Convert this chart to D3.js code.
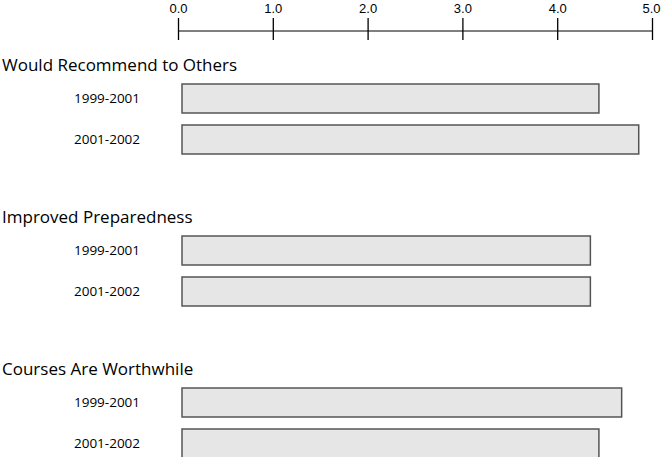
<!DOCTYPE html>
<html>
<head>
<meta charset="utf-8">
<script src="https://cdn.jsdelivr.net/npm/d3@7"></script>
<style>
  body { margin: 0; background: #fff; }
  svg { display: block; font-family: "Open Sans", sans-serif; }
  .cat { font-size: 17px; fill: #000; }
  .yr { font-size: 13.5px; fill: #000; }
  .axis text { font-size: 13px; fill: #000; }
  .bar { fill: #e6e6e6; stroke: #555; stroke-width: 1.5; }
</style>
</head>
<body>
<svg width="662" height="457"></svg>
<script>
// chart data
var categories = ["Would Recommend to Others", "Improved Preparedness", "Courses Are Worthwhile"];
var periods = ["1999-2001", "2001-2002"];
var values1999 = [4.44, 4.35, 4.68];
var values2001 = [4.86, 4.35, 4.44];
var tickValues = [0, 1, 2, 3, 4, 5];

window.onload = main;

function main() {
    var svg = d3.select("svg");

    var x = d3.scaleLinear().domain([0, 5]).range([178, 652]);

    // one band per category block (band top = title line)
    var yGroup = d3.scaleBand().domain(categories).range([65, 521]).paddingInner(0);
    var yInner = d3.scaleBand().domain(periods).range([19, 89]).paddingInner(0.293).paddingOuter(0);

    var rows = [];
    categories.forEach(function (c, i) {
        rows.push({ cat: c, period: periods[0], value: values1999[i] });
        rows.push({ cat: c, period: periods[1], value: values2001[i] });
    });

    // Axis on top
    var axis = d3.axisTop(x)
        .tickValues(tickValues)
        .tickSize(13)
        .tickPadding(5)
        .tickFormat(d3.format(".1f"));

    var ax = svg.append("g")
        .attr("class", "axis")
        .attr("transform", "translate(0,31)")
        .call(axis);
    ax.select(".domain").attr("stroke", "#000").attr("stroke-width", 1).attr("d", "M" + x(0) + ",0H" + x(5));
    ax.selectAll(".tick line").attr("y1", 9).attr("y2", -13).attr("stroke", "#000").attr("stroke-width", 1.3);
    // keep the last label inside the frame
    ax.selectAll(".tick text").filter(function (d) { return d === 5; })
        .attr("text-anchor", "end").attr("dx", 8);

    // Category titles
    svg.selectAll(".cat")
        .data(categories)
        .enter()
        .append("text")
        .attr("class", "cat")
        .attr("x", 2)
        .attr("y", function (d) { return yGroup(d); })
        .attr("dy", "0.35em")
        .text(function (d) { return d; });

    // Bars
    svg.selectAll(".bar")
        .data(rows)
        .enter()
        .append("rect")
        .attr("class", "bar")
        .attr("x", x(0) + 4)
        .attr("y", function (d) { return yGroup(d.cat) + yInner(d.period); })
        .attr("width", function (d) { return x(d.value) - x(0) - 4; })
        .attr("height", yInner.bandwidth());

    // Period labels
    svg.selectAll(".yr")
        .data(rows)
        .enter()
        .append("text")
        .attr("class", "yr")
        .attr("x", 107)
        .attr("text-anchor", "middle")
        .attr("dy", "0.35em")
        .attr("y", function (d) { return yGroup(d.cat) + yInner(d.period) + yInner.bandwidth() / 2; })
        .text(function (d) { return d.period; });
}
</script>
</body>
</html>
